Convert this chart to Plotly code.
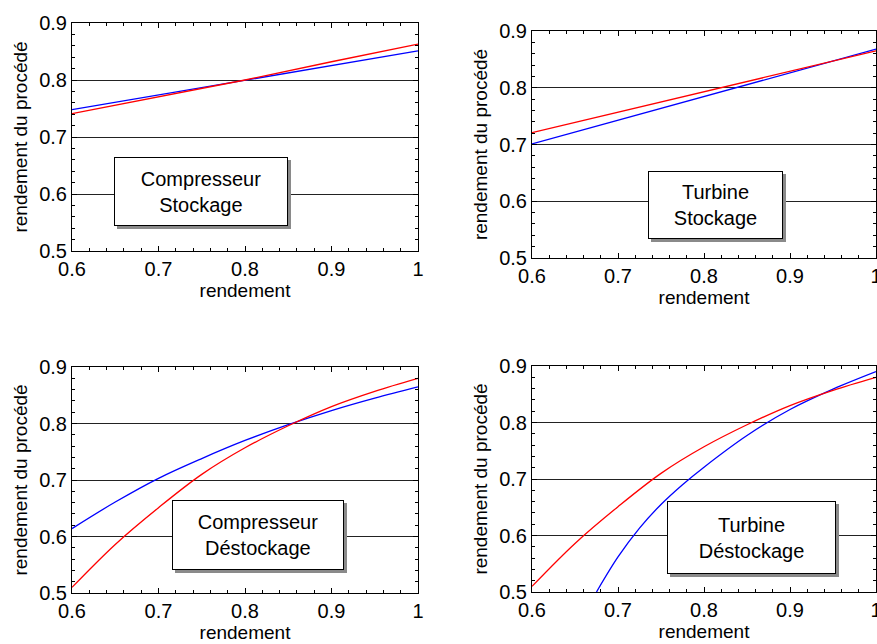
import plotly.graph_objects as go

# ---------------- data ----------------
x_lin = [0.6, 0.7, 0.8, 0.9, 1.0]
comp_sto_blue = [0.748, 0.774, 0.800, 0.826, 0.851]
comp_sto_red = [0.741, 0.770, 0.800, 0.832, 0.863]
turb_sto_blue = [0.701, 0.743, 0.785, 0.826, 0.868]
turb_sto_red = [0.721, 0.757, 0.793, 0.829, 0.865]

x_curve = [0.6, 0.65, 0.7, 0.75, 0.8, 0.85, 0.9, 0.95, 1.0]
comp_des_blue = [0.614, 0.661, 0.703, 0.738, 0.770, 0.798, 0.823, 0.845, 0.865]
comp_des_red = [0.510, 0.586, 0.651, 0.710, 0.757, 0.796, 0.830, 0.857, 0.880]
turb_des_red = [0.510, 0.586, 0.651, 0.710, 0.757, 0.796, 0.830, 0.857, 0.880]
x_turb_des_blue = [0.675, 0.7, 0.725, 0.75, 0.775, 0.8, 0.85, 0.9, 0.95, 1.0]
turb_des_blue = [0.500, 0.562, 0.613, 0.655, 0.690, 0.721, 0.777, 0.823, 0.859, 0.890]

x_tickvals = [0.6, 0.7, 0.8, 0.9, 1.0]
x_ticktext = ["0.6", "0.7", "0.8", "0.9", "1"]
y_tickvals = [0.5, 0.6, 0.7, 0.8, 0.9]
y_ticktext = ["0.5", "0.6", "0.7", "0.8", "0.9"]

box_labels = ["Compresseur<br>Stockage", "Turbine<br>Stockage",
              "Compresseur<br>Déstockage", "Turbine<br>Déstockage"]
x_title = "rendement"
y_title = "rendement du procédé"

FONT = "Liberation Sans, Arial, sans-serif"
W, H = 877, 644

fig = go.Figure()

panels = [
    (x_lin, comp_sto_blue, x_lin, comp_sto_red, "linear"),
    (x_lin, turb_sto_blue, x_lin, turb_sto_red, "linear"),
    (x_curve, comp_des_blue, x_curve, comp_des_red, "spline"),
    (x_turb_des_blue, turb_des_blue, x_curve, turb_des_red, "spline"),
]
for i, (xb, yb, xr, yr, shape) in enumerate(panels):
    sfx = "" if i == 0 else str(i + 1)
    fig.add_trace(go.Scatter(x=xb, y=yb, mode="lines",
                             line=dict(color="#0000ff", width=1.3, shape=shape, smoothing=1.0),
                             xaxis="x" + sfx, yaxis="y" + sfx, showlegend=False, hoverinfo="skip"))
    fig.add_trace(go.Scatter(x=xr, y=yr, mode="lines",
                             line=dict(color="#ff0000", width=1.3, shape=shape, smoothing=1.0),
                             xaxis="x" + sfx, yaxis="y" + sfx, showlegend=False, hoverinfo="skip"))

# panel plot-area rectangles in pixels (left, right, top, bottom)
rects = [(72, 418, 23, 251), (532, 876, 31, 258), (72, 418, 367, 593), (532, 876, 366, 592)]

def xdom(l, r):
    return [l / W, r / W]

def ydom(t, b):
    return [1 - b / H, 1 - t / H]

axis_common = dict(
    showline=True, linecolor="black", linewidth=1, mirror="ticks",
    ticks="inside", ticklen=5, tickwidth=1, tickcolor="black",
    minor=dict(ticks="inside", ticklen=3, tickwidth=1, tickcolor="black", dtick=0.02),
    zeroline=False, automargin=False, ticklabeloverflow="allow",
    tickfont=dict(family=FONT, size=20, color="black"),
)

layout = dict(width=W, height=H, margin=dict(l=0, r=0, t=0, b=0),
              paper_bgcolor="white", plot_bgcolor="white",
              font=dict(family=FONT, color="black"))
for i, (l, r, t, b) in enumerate(rects):
    sfx = "" if i == 0 else str(i + 1)
    layout["xaxis" + sfx] = dict(
        axis_common, domain=xdom(l, r), range=[0.6, 1.0],
        tickmode="array", tickvals=x_tickvals, ticktext=x_ticktext,
        showgrid=False, anchor="y" + sfx,
        title=dict(text=x_title, font=dict(family=FONT, size=19), standoff=4))
    layout["yaxis" + sfx] = dict(
        axis_common, domain=ydom(t, b), range=[0.5, 0.9],
        tickmode="array", tickvals=y_tickvals, ticktext=y_ticktext,
        showgrid=True, gridcolor="#222222", gridwidth=1, anchor="x" + sfx,
        title=dict(text=y_title, font=dict(family=FONT, size=19), standoff=6))

fig.update_layout(**layout)

# annotation boxes (center in data coords, box size in px)
box_pos = [(0.7486, 0.605, 172, 67), (0.8136, 0.593, 133, 66),
           (0.8145, 0.603, 170, 68), (0.8555, 0.596, 167, 71)]
for i, (label, (bx, by, bw, bh)) in enumerate(zip(box_labels, box_pos)):
    sfx = "" if i == 0 else str(i + 1)
    # drop shadow
    fig.add_annotation(x=bx, y=by, xref="x" + sfx, yref="y" + sfx, text=" ",
                       showarrow=False, width=bw, height=bh, borderpad=0,
                       bgcolor="#8a8a8a", bordercolor="#8a8a8a", borderwidth=1,
                       font=dict(family=FONT, size=20, color="#8a8a8a"),
                       xshift=3, yshift=-3)
    fig.add_annotation(x=bx, y=by, xref="x" + sfx, yref="y" + sfx, text=label,
                       showarrow=False, width=bw, height=bh, borderpad=0,
                       bgcolor="white", bordercolor="black", borderwidth=1,
                       font=dict(family=FONT, size=20, color="black"))

fig.write_html("out.html")
